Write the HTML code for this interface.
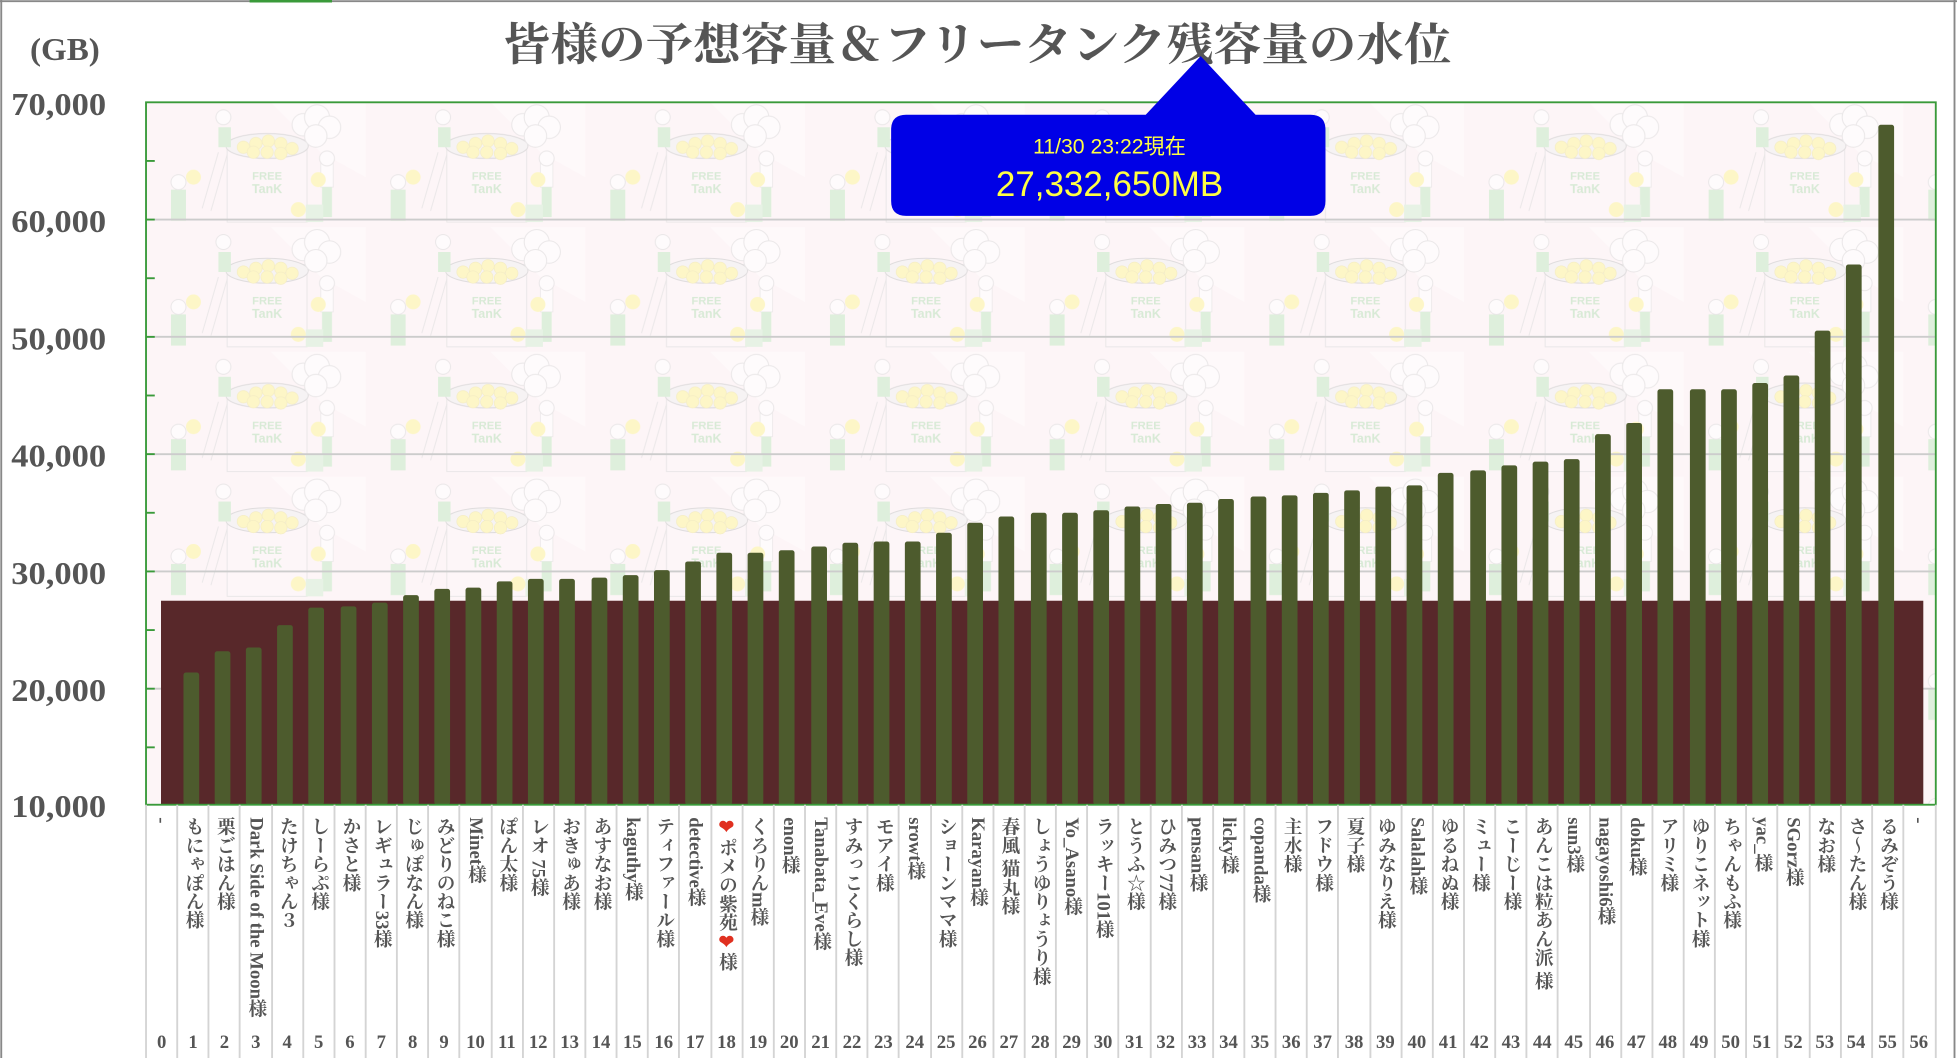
<!DOCTYPE html>
<html><head><meta charset="utf-8"><style>
html,body{margin:0;padding:0;background:#fff;width:1957px;height:1058px;overflow:hidden}
svg{display:block}
.yl{font-family:"Liberation Serif","Noto Serif CJK JP",serif;font-weight:bold;font-size:25px;fill:#555;text-anchor:end}
.xl{font-family:"Liberation Serif","Noto Serif CJK JP",serif;font-weight:bold;font-size:15px;fill:#555;writing-mode:vertical-rl}
.xn{font-family:"Liberation Serif",serif;font-weight:bold;font-size:15px;fill:#555;text-anchor:middle}
</style></head><body>
<svg width="1957" height="1058" viewBox="0 0 1568 848" preserveAspectRatio="none" xmlns="http://www.w3.org/2000/svg">
<defs>
<pattern id="tile" x="117" y="82" width="176" height="100" patternUnits="userSpaceOnUse">
<rect width="176" height="100" fill="#fdf5f7"/>
<g opacity="0.6">
<path d="M0 0 H176 V60 L140 40 L100 0 Z" fill="#ffffff" opacity="0.7"/>
<rect x="65" y="30" width="64" height="66" fill="#fdf7f9" stroke="#ddd" stroke-width="0.8"/>
<ellipse cx="97" cy="35" rx="33" ry="10" fill="#f2f2f2" stroke="#ccc" stroke-width="0.8"/>
<g fill="#fdf6a6" stroke="#eee6a0" stroke-width="0.5">
<circle cx="78" cy="36" r="5"/><circle cx="88" cy="33" r="5"/><circle cx="98" cy="31" r="5"/><circle cx="108" cy="33" r="5"/><circle cx="117" cy="37" r="5"/><circle cx="86" cy="40" r="5"/><circle cx="97" cy="40" r="5"/><circle cx="108" cy="41" r="5"/>
</g>
<text x="97" y="62" font-family="Liberation Sans,sans-serif" font-size="9" font-weight="bold" fill="#bfe3bf" text-anchor="middle">FREE</text>
<text x="97" y="73" font-family="Liberation Sans,sans-serif" font-size="10" font-weight="bold" fill="#bfe3bf" text-anchor="middle">TanK</text>
<g fill="#fff" stroke="#ddd" stroke-width="0.8"><circle cx="126" cy="18" r="9"/><circle cx="137" cy="12" r="10"/><circle cx="147" cy="20" r="9"/><circle cx="136" cy="27" r="9"/></g>
<rect x="58" y="20" width="10" height="16" fill="#c9ebc9"/><circle cx="62" cy="12" r="6" fill="#fff" stroke="#ddd" stroke-width="0.8"/>
<rect x="140" y="48" width="10" height="20" fill="#fff" stroke="#ddd" stroke-width="0.6"/><rect x="141" y="68" width="8" height="24" fill="#c9ebc9"/><circle cx="145" cy="45" r="6" fill="#fff" stroke="#ddd" stroke-width="0.8"/><circle cx="138" cy="62" r="6" fill="#fdf6a6"/>
<rect x="20" y="70" width="12" height="25" fill="#c9ebc9"/><circle cx="26" cy="64" r="6" fill="#fff" stroke="#ddd" stroke-width="0.8"/><circle cx="38" cy="60" r="6" fill="#fdf6a6"/>
<circle cx="122" cy="86" r="6" fill="#fdf6a6"/><rect x="128" y="82" width="14" height="14" fill="#d8f0d8"/>
<path d="M45 85 L58 40 M52 87 L65 42" stroke="#ddd" stroke-width="0.8"/>
</g>
</pattern>
</defs>
<line x1="0" y1="1" x2="1568" y2="1" stroke="#888" stroke-width="1.5"/>
<line x1="200" y1="1" x2="266" y2="1" stroke="#3a9a3a" stroke-width="2"/>
<line x1="1" y1="0" x2="1" y2="848" stroke="#888" stroke-width="1.5"/>
<line x1="1566" y1="0" x2="1566" y2="848" stroke="#888" stroke-width="1.5"/>

<text x="403" y="48" font-family="Noto Serif CJK JP,serif" font-weight="bold" font-size="36" fill="#555" textLength="760" lengthAdjust="spacingAndGlyphs">皆様の予想容量＆フリータンク残容量の水位</text>
<text x="52" y="48" font-family="Liberation Serif,serif" font-weight="bold" font-size="25" fill="#555" text-anchor="middle" textLength="56" lengthAdjust="spacingAndGlyphs">(GB)</text>

<rect x="117" y="82" width="1434" height="563" fill="url(#tile)"/>
<g stroke="#ccc" stroke-width="1.5">
<line x1="117" y1="176" x2="1551" y2="176"/><line x1="117" y1="270" x2="1551" y2="270"/><line x1="117" y1="364" x2="1551" y2="364"/><line x1="117" y1="458" x2="1551" y2="458"/><line x1="117" y1="552" x2="1551" y2="552"/>
</g>
<rect x="129" y="481.5" width="1412" height="163.5" fill="#58282a"/>

<g fill="#4d5b2d">
<rect x="147" y="539" width="12.6" height="106" rx="2"/>
<rect x="172" y="522" width="12.6" height="123" rx="2"/>
<rect x="197" y="519" width="12.6" height="126" rx="2"/>
<rect x="222" y="501" width="12.6" height="144" rx="2"/>
<rect x="247" y="487" width="12.6" height="158" rx="2"/>
<rect x="273" y="486" width="12.6" height="159" rx="2"/>
<rect x="298" y="483" width="12.6" height="162" rx="2"/>
<rect x="323" y="477" width="12.6" height="168" rx="2"/>
<rect x="348" y="472" width="12.6" height="173" rx="2"/>
<rect x="373" y="471" width="12.6" height="174" rx="2"/>
<rect x="398" y="466" width="12.6" height="179" rx="2"/>
<rect x="423" y="464" width="12.6" height="181" rx="2"/>
<rect x="448" y="464" width="12.6" height="181" rx="2"/>
<rect x="474" y="463" width="12.6" height="182" rx="2"/>
<rect x="499" y="461" width="12.6" height="184" rx="2"/>
<rect x="524" y="457" width="12.6" height="188" rx="2"/>
<rect x="549" y="450" width="12.6" height="195" rx="2"/>
<rect x="574" y="443" width="12.6" height="202" rx="2"/>
<rect x="599" y="443" width="12.6" height="202" rx="2"/>
<rect x="624" y="441" width="12.6" height="204" rx="2"/>
<rect x="650" y="438" width="12.6" height="207" rx="2"/>
<rect x="675" y="435" width="12.6" height="210" rx="2"/>
<rect x="700" y="434" width="12.6" height="211" rx="2"/>
<rect x="725" y="434" width="12.6" height="211" rx="2"/>
<rect x="750" y="427" width="12.6" height="218" rx="2"/>
<rect x="775" y="419" width="12.6" height="226" rx="2"/>
<rect x="800" y="414" width="12.6" height="231" rx="2"/>
<rect x="826" y="411" width="12.6" height="234" rx="2"/>
<rect x="851" y="411" width="12.6" height="234" rx="2"/>
<rect x="876" y="409" width="12.6" height="236" rx="2"/>
<rect x="901" y="406" width="12.6" height="239" rx="2"/>
<rect x="926" y="404" width="12.6" height="241" rx="2"/>
<rect x="951" y="403" width="12.6" height="242" rx="2"/>
<rect x="976" y="400" width="12.6" height="245" rx="2"/>
<rect x="1002" y="398" width="12.6" height="247" rx="2"/>
<rect x="1027" y="397" width="12.6" height="248" rx="2"/>
<rect x="1052" y="395" width="12.6" height="250" rx="2"/>
<rect x="1077" y="393" width="12.6" height="252" rx="2"/>
<rect x="1102" y="390" width="12.6" height="255" rx="2"/>
<rect x="1127" y="389" width="12.6" height="256" rx="2"/>
<rect x="1152" y="379" width="12.6" height="266" rx="2"/>
<rect x="1178" y="377" width="12.6" height="268" rx="2"/>
<rect x="1203" y="373" width="12.6" height="272" rx="2"/>
<rect x="1228" y="370" width="12.6" height="275" rx="2"/>
<rect x="1253" y="368" width="12.6" height="277" rx="2"/>
<rect x="1278" y="348" width="12.6" height="297" rx="2"/>
<rect x="1303" y="339" width="12.6" height="306" rx="2"/>
<rect x="1328" y="312" width="12.6" height="333" rx="2"/>
<rect x="1354" y="312" width="12.6" height="333" rx="2"/>
<rect x="1379" y="312" width="12.6" height="333" rx="2"/>
<rect x="1404" y="307" width="12.6" height="338" rx="2"/>
<rect x="1429" y="301" width="12.6" height="344" rx="2"/>
<rect x="1454" y="265" width="12.6" height="380" rx="2"/>
<rect x="1479" y="212" width="12.6" height="433" rx="2"/>
<rect x="1505" y="100" width="12.6" height="545" rx="2"/>
</g>

<rect x="117" y="82" width="1434" height="563" fill="none" stroke="#3a9a3a" stroke-width="1.5"/>
<g stroke="#3a9a3a" stroke-width="1.5">
<line x1="117" y1="129" x2="124" y2="129"/><line x1="117" y1="176" x2="124" y2="176"/><line x1="117" y1="223" x2="124" y2="223"/><line x1="117" y1="270" x2="124" y2="270"/><line x1="117" y1="317" x2="124" y2="317"/><line x1="117" y1="364" x2="124" y2="364"/><line x1="117" y1="411" x2="124" y2="411"/><line x1="117" y1="458" x2="124" y2="458"/><line x1="117" y1="505" x2="124" y2="505"/><line x1="117" y1="552" x2="124" y2="552"/><line x1="117" y1="599" x2="124" y2="599"/>
</g>

<text class="yl" x="85" y="92" textLength="76" lengthAdjust="spacingAndGlyphs">70,000</text>
<text class="yl" x="85" y="186" textLength="76" lengthAdjust="spacingAndGlyphs">60,000</text>
<text class="yl" x="85" y="280" textLength="76" lengthAdjust="spacingAndGlyphs">50,000</text>
<text class="yl" x="85" y="374" textLength="76" lengthAdjust="spacingAndGlyphs">40,000</text>
<text class="yl" x="85" y="468" textLength="76" lengthAdjust="spacingAndGlyphs">30,000</text>
<text class="yl" x="85" y="562" textLength="76" lengthAdjust="spacingAndGlyphs">20,000</text>
<text class="yl" x="85" y="655" textLength="76" lengthAdjust="spacingAndGlyphs">10,000</text>

<path d="M117 645V848M142 645V848M167 645V848M192 645V848M218 645V848M243 645V848M268 645V848M293 645V848M318 645V848M343 645V848M368 645V848M394 645V848M419 645V848M444 645V848M469 645V848M494 645V848M519 645V848M544 645V848M570 645V848M595 645V848M620 645V848M645 645V848M670 645V848M695 645V848M720 645V848M746 645V848M771 645V848M796 645V848M821 645V848M846 645V848M871 645V848M896 645V848M922 645V848M947 645V848M972 645V848M997 645V848M1022 645V848M1047 645V848M1072 645V848M1098 645V848M1123 645V848M1148 645V848M1173 645V848M1198 645V848M1223 645V848M1248 645V848M1274 645V848M1299 645V848M1324 645V848M1349 645V848M1374 645V848M1399 645V848M1424 645V848M1450 645V848M1475 645V848M1500 645V848M1525 645V848M1551 645V848" stroke="#d4d4d4" stroke-width="1.5"/>

<g class="xl">
<text x="129.6" y="655" class="xl">-</text>
<text x="154.7" y="655" class="xl">もにゃぽん様</text>
<text x="179.8" y="655" class="xl">栗ごはん様</text>
<text x="205.0" y="655" class="xl">Dark Side of the Moon様</text>
<text x="230.1" y="655" class="xl">たけちゃん３</text>
<text x="255.3" y="655" class="xl">しーらぷ様</text>
<text x="280.4" y="655" class="xl">かさと様</text>
<text x="305.5" y="655" class="xl">レギュラー33様</text>
<text x="330.7" y="655" class="xl">じゅぽなん様</text>
<text x="355.8" y="655" class="xl">みどりのねこ様</text>
<text x="381.0" y="655" class="xl">Minet様</text>
<text x="406.1" y="655" class="xl">ぽん太様</text>
<text x="431.2" y="655" class="xl">レオ 75様</text>
<text x="456.4" y="655" class="xl">おきゅあ様</text>
<text x="481.5" y="655" class="xl">あすなお様</text>
<text x="506.7" y="655" class="xl">kaguthy様</text>
<text x="531.8" y="655" class="xl">ティファール様</text>
<text x="556.9" y="655" class="xl">detective様</text>
<text x="582.1" y="655" class="xl"><tspan fill="#e03020">❤</tspan>ポメの紫苑<tspan fill="#e03020">❤</tspan>様</text>
<text x="607.2" y="655" class="xl">くろりんm様</text>
<text x="632.4" y="655" class="xl">enon様</text>
<text x="657.5" y="655" class="xl">Tanabata_Eve様</text>
<text x="682.6" y="655" class="xl">すみっこくらし様</text>
<text x="707.8" y="655" class="xl">モアイ様</text>
<text x="732.9" y="655" class="xl">srowt様</text>
<text x="758.1" y="655" class="xl">ショーンママ様</text>
<text x="783.2" y="655" class="xl">Karayan様</text>
<text x="808.3" y="655" class="xl">春風 猫丸様</text>
<text x="833.5" y="655" class="xl">しょうゆりょうり様</text>
<text x="858.6" y="655" class="xl">Yo_Asano様</text>
<text x="883.8" y="655" class="xl">ラッキー101様</text>
<text x="908.9" y="655" class="xl">とうふ☆様</text>
<text x="934.0" y="655" class="xl">ひみつ77様</text>
<text x="959.2" y="655" class="xl">pensan様</text>
<text x="984.3" y="655" class="xl">licky様</text>
<text x="1009.5" y="655" class="xl">copanda様</text>
<text x="1034.6" y="655" class="xl">主水様</text>
<text x="1059.7" y="655" class="xl">フドウ様</text>
<text x="1084.9" y="655" class="xl">夏子様</text>
<text x="1110.0" y="655" class="xl">ゆみなりえ様</text>
<text x="1135.2" y="655" class="xl">Salalah様</text>
<text x="1160.3" y="655" class="xl">ゆるねぬ様</text>
<text x="1185.4" y="655" class="xl">ミュー様</text>
<text x="1210.6" y="655" class="xl">こーじー様</text>
<text x="1235.7" y="655" class="xl">あんこは粒あん派 様</text>
<text x="1260.9" y="655" class="xl">sun3様</text>
<text x="1286.0" y="655" class="xl">nagayoshi6様</text>
<text x="1311.1" y="655" class="xl">doku様</text>
<text x="1336.3" y="655" class="xl">アリミ様</text>
<text x="1361.4" y="655" class="xl">ゆりこネット様</text>
<text x="1386.6" y="655" class="xl">ちゃんもふ様</text>
<text x="1411.7" y="655" class="xl">yac_様</text>
<text x="1436.8" y="655" class="xl">SGorz様</text>
<text x="1462.0" y="655" class="xl">なお様</text>
<text x="1487.1" y="655" class="xl">さ～たん様</text>
<text x="1512.3" y="655" class="xl">るみぞう様</text>
<text x="1537.4" y="655" class="xl">-</text>
</g>

<g class="xn">
<text class="xn" x="129.6" y="840">0</text><text class="xn" x="154.7" y="840">1</text><text class="xn" x="179.8" y="840">2</text><text class="xn" x="205.0" y="840">3</text><text class="xn" x="230.1" y="840">4</text><text class="xn" x="255.3" y="840">5</text><text class="xn" x="280.4" y="840">6</text><text class="xn" x="305.5" y="840">7</text><text class="xn" x="330.7" y="840">8</text><text class="xn" x="355.8" y="840">9</text><text class="xn" x="381.0" y="840">10</text><text class="xn" x="406.1" y="840">11</text><text class="xn" x="431.2" y="840">12</text><text class="xn" x="456.4" y="840">13</text><text class="xn" x="481.5" y="840">14</text><text class="xn" x="506.7" y="840">15</text><text class="xn" x="531.8" y="840">16</text><text class="xn" x="556.9" y="840">17</text><text class="xn" x="582.1" y="840">18</text><text class="xn" x="607.2" y="840">19</text><text class="xn" x="632.4" y="840">20</text><text class="xn" x="657.5" y="840">21</text><text class="xn" x="682.6" y="840">22</text><text class="xn" x="707.8" y="840">23</text><text class="xn" x="732.9" y="840">24</text><text class="xn" x="758.1" y="840">25</text><text class="xn" x="783.2" y="840">26</text><text class="xn" x="808.3" y="840">27</text><text class="xn" x="833.5" y="840">28</text><text class="xn" x="858.6" y="840">29</text><text class="xn" x="883.8" y="840">30</text><text class="xn" x="908.9" y="840">31</text><text class="xn" x="934.0" y="840">32</text><text class="xn" x="959.2" y="840">33</text><text class="xn" x="984.3" y="840">34</text><text class="xn" x="1009.5" y="840">35</text><text class="xn" x="1034.6" y="840">36</text><text class="xn" x="1059.7" y="840">37</text><text class="xn" x="1084.9" y="840">38</text><text class="xn" x="1110.0" y="840">39</text><text class="xn" x="1135.2" y="840">40</text><text class="xn" x="1160.3" y="840">41</text><text class="xn" x="1185.4" y="840">42</text><text class="xn" x="1210.6" y="840">43</text><text class="xn" x="1235.7" y="840">44</text><text class="xn" x="1260.9" y="840">45</text><text class="xn" x="1286.0" y="840">46</text><text class="xn" x="1311.1" y="840">47</text><text class="xn" x="1336.3" y="840">48</text><text class="xn" x="1361.4" y="840">49</text><text class="xn" x="1386.6" y="840">50</text><text class="xn" x="1411.7" y="840">51</text><text class="xn" x="1436.8" y="840">52</text><text class="xn" x="1462.0" y="840">53</text><text class="xn" x="1487.1" y="840">54</text><text class="xn" x="1512.3" y="840">55</text><text class="xn" x="1537.4" y="840">56</text>
</g>

<path d="M726 92 H918 L962 45 L1006 92 H1050 Q1062 92 1062 104 V161 Q1062 173 1050 173 H726 Q714 173 714 161 V104 Q714 92 726 92 Z" fill="#0000e6"/>
<text x="889" y="123" font-family="Liberation Sans,Noto Sans CJK JP,sans-serif" font-size="17" fill="#ffff44" text-anchor="middle">11/30 23:22現在</text>
<text x="889" y="157" font-family="Liberation Sans,sans-serif" font-size="28" fill="#ffff44" text-anchor="middle">27,332,650MB</text>
</svg>
</body></html>
